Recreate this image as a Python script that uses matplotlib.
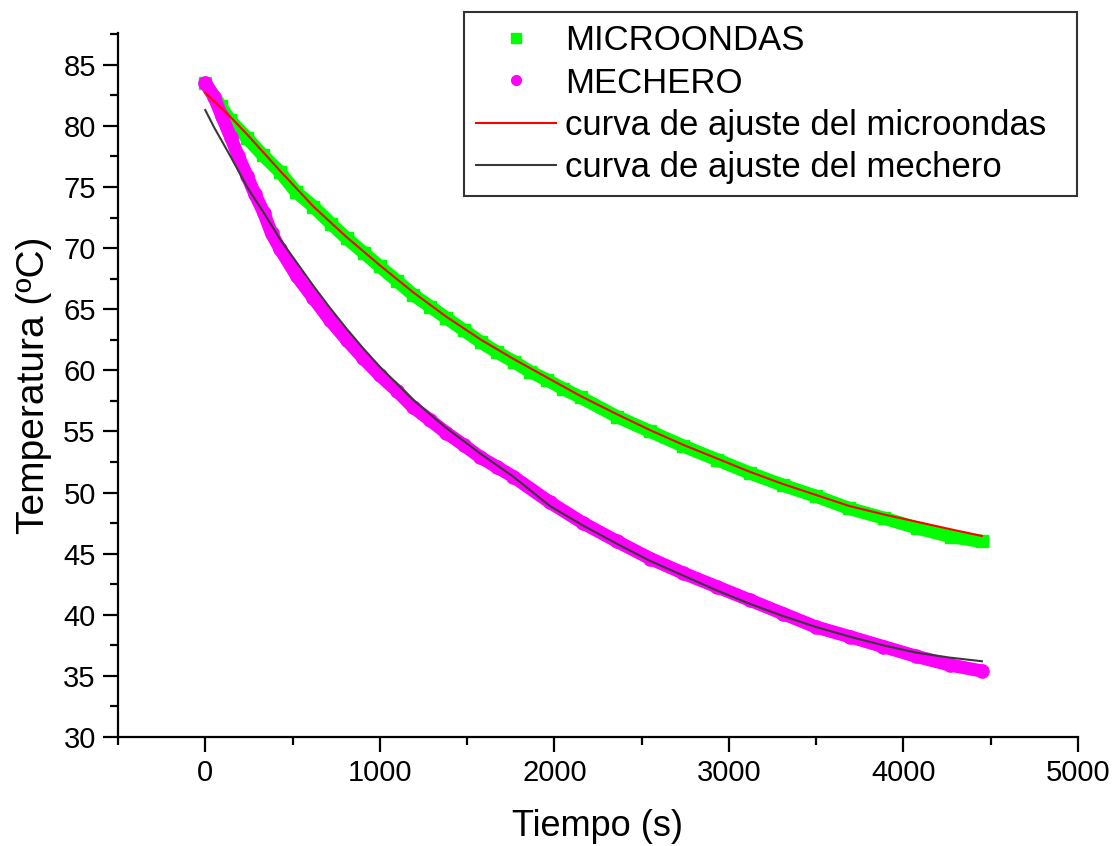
import matplotlib
matplotlib.use("Agg")
import matplotlib.pyplot as plt
from matplotlib.ticker import MultipleLocator

plt.rcParams['font.family'] = ['Liberation Sans', 'DejaVu Sans']

# datos
t_micro = [0, 90, 140, 240, 330, 430, 520, 620, 720, 810, 910, 1000, 1100,
           1190, 1290, 1380, 1480, 1580, 1670, 1770, 1860, 1960, 2050, 2150,
           2360, 2550, 2740, 2930, 3120, 3310, 3500, 3690, 3890, 4080, 4270,
           4450]
T_micro = [83.5, 81.6, 80.5, 79.0, 77.6, 76.2, 74.6, 73.4, 72.0, 70.8, 69.6,
           68.5, 67.3, 66.2, 65.2, 64.3, 63.3, 62.3, 61.5, 60.7, 59.9, 59.2,
           58.5, 57.8, 56.2, 55.0, 53.8, 52.7, 51.6, 50.6, 49.7, 48.7, 47.9,
           47.1, 46.4, 46.0]

t_mech = [0, 50, 95, 145, 190, 240, 285, 335, 380, 430, 525, 620, 715, 810,
          905, 1000, 1100, 1190, 1290, 1380, 1480, 1575, 1670, 1765, 1975,
          2165, 2360, 2550, 2740, 2930, 3120, 3310, 3500, 3695, 3885, 4075,
          4265, 4450]
T_mech = [83.5, 82.4, 80.8, 79.1, 77.5, 75.9, 74.4, 72.9, 71.2, 69.9, 67.7,
          65.9, 64.1, 62.5, 61.0, 59.6, 58.3, 57.0, 55.9, 54.9, 53.9, 52.9,
          52.1, 51.3, 49.2, 47.5, 46.0, 44.6, 43.4, 42.3, 41.2, 40.1, 39.0,
          38.2, 37.4, 36.6, 35.9, 35.4]

t_fit_micro = [0, 140, 240, 430, 620, 810, 1000, 1190, 1380, 1580, 1770, 1960,
               2150, 2360, 2550, 2740, 2930, 3120, 3310, 3500, 3690, 3890,
               4080, 4270, 4450]
T_fit_micro = [82.7, 80.8, 79.3, 76.3, 73.4, 70.9, 68.6, 66.4, 64.4, 62.5,
               60.9, 59.4, 57.9, 56.4, 55.1, 53.9, 52.8, 51.7, 50.7, 49.8,
               48.9, 48.2, 47.6, 47.0, 46.45]

t_fit_mech = [0, 50, 145, 240, 335, 430, 525, 620, 715, 810, 905, 1000, 1190,
              1380, 1575, 1765, 1975, 2165, 2360, 2550, 2740, 2930, 3120,
              3310, 3500, 3695, 3885, 4075, 4265, 4450]
T_fit_mech = [81.3, 79.9, 77.5, 75.0, 72.9, 70.7, 68.8, 66.9, 65.1, 63.4,
              61.8, 60.3, 57.6, 55.3, 53.2, 51.3, 48.9, 47.3, 45.8, 44.4,
              43.2, 42.0, 40.9, 39.9, 39.0, 38.2, 37.5, 36.9, 36.5, 36.2]

fig = plt.figure(figsize=(11.13, 8.46), dpi=100)
ax = fig.add_axes([0.106, 0.1288, 0.8625, 0.8322])

# banda de puntos experimentales
ax.plot(t_micro, T_micro, color="#00ff00", lw=9.5, solid_joinstyle="round",
        solid_capstyle="butt")
ax.plot(t_micro, T_micro, ls="none", marker="s", ms=8.5, color="#00ff00",
        label="MICROONDAS")
ax.plot(t_mech, T_mech, color="#ff00ff", lw=9.5, solid_joinstyle="round",
        solid_capstyle="round")
ax.plot(t_mech, T_mech, ls="none", marker="o", ms=9.5, color="#ff00ff",
        label="MECHERO")

ax.plot(t_fit_micro, T_fit_micro, color="#ff0000", lw=1.5,
        label="curva de ajuste del microondas")
ax.plot(t_fit_mech, T_fit_mech, color="#3a3a3a", lw=1.5,
        label="curva de ajuste del mechero")

ax.set_xlim(-500, 5000)
ax.set_ylim(30, 87.6)
ax.xaxis.set_major_locator(MultipleLocator(1000))
ax.xaxis.set_minor_locator(MultipleLocator(500))
ax.yaxis.set_major_locator(MultipleLocator(5))
ax.yaxis.set_minor_locator(MultipleLocator(2.5))

for side in ["top", "right"]:
    ax.spines[side].set_visible(False)
for side in ["left", "bottom"]:
    ax.spines[side].set_linewidth(1.6)

ax.tick_params(which="major", direction="out", length=11, width=1.6,
               labelsize=21, pad=5)
ax.tick_params(which="minor", direction="out", length=6, width=1.6)

ax.set_xlabel("Tiempo (s)", fontsize=26, labelpad=16)
ax.set_ylabel("Temperatura (ºC)", fontsize=28, labelpad=8)

leg = ax.legend(loc="upper left",
                bbox_to_anchor=(464 / 1113, 1 - 196 / 846, 613 / 1113, 184 / 846),
                bbox_transform=fig.transFigure, mode="expand", borderaxespad=0,
                fontsize=25, frameon=True, fancybox=False, edgecolor="black",
                numpoints=1, handlelength=2.3, handletextpad=0.25,
                labelspacing=0.27, borderpad=0.35)
leg.get_frame().set_linewidth(1.5)
for h in leg.legend_handles[:2]:
    h.set_markersize(7)

fig.savefig("out.png", dpi=100)
